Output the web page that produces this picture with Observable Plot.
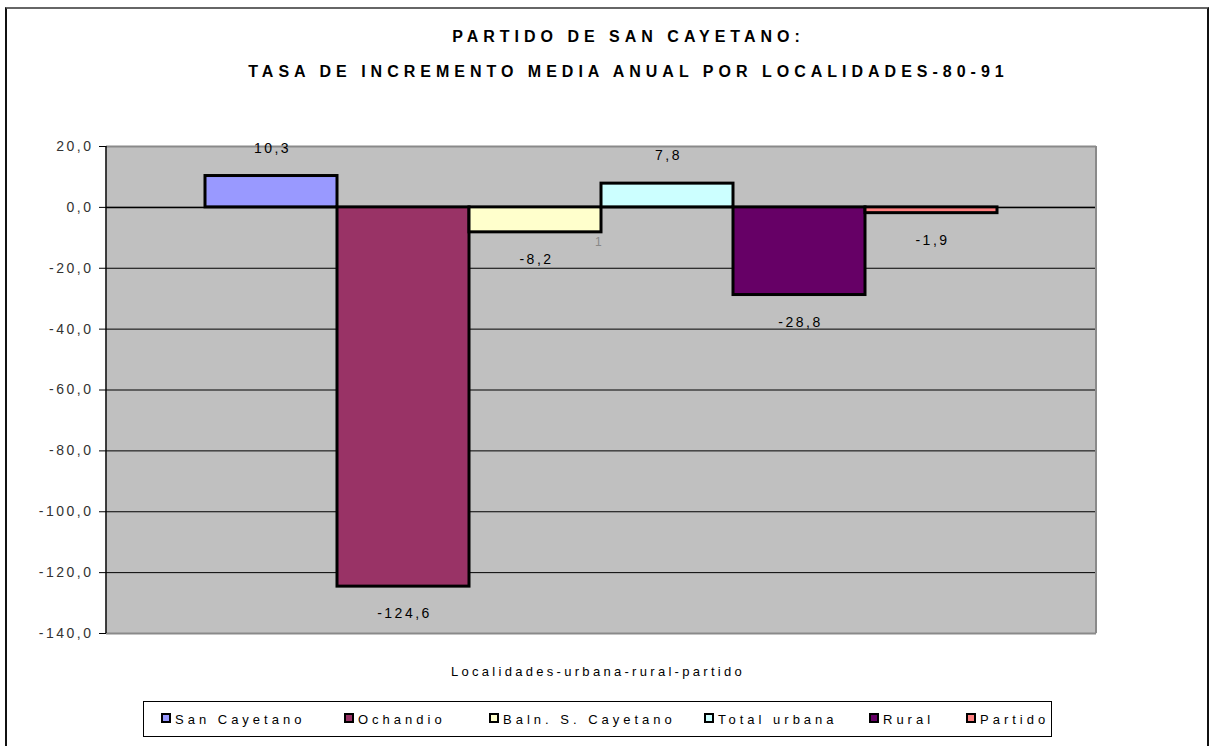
<!DOCTYPE html>
<html>
<head>
<meta charset="utf-8">
<script src="https://cdn.jsdelivr.net/npm/d3@7"></script>
<script src="https://cdn.jsdelivr.net/npm/@observablehq/plot@0.6"></script>
<style>
  html, body { margin: 0; padding: 0; background: #fff; }
  body { width: 1209px; height: 746px; position: relative; overflow: hidden; font-family: "Liberation Sans", Arial, sans-serif; }
  #border { position: absolute; left: 5px; top: 7px; width: 1200px; height: 760px; border-left: 2px solid #111; border-top: 2px solid #666; border-right: 2px solid #111; }
  .title { position: absolute; left: 48px; width: 1161px; text-align: center; font-weight: bold; font-size: 16px; letter-spacing: 5px; color: #000; white-space: nowrap; }
  #chart { position: absolute; left: 0; top: 120px; }
  #chart svg text { letter-spacing: 2.5px; }
  #xlabel { position: absolute; left: 0; width: 1196px; text-align: center; top: 664px; font-size: 13px; letter-spacing: 3.3px; color: #000; white-space: nowrap; }
  #legend { position: absolute; left: 143px; top: 701px; width: 909px; height: 36px; border: 1px solid #000; box-sizing: border-box; }
  .li { position: absolute; top: 0; height: 35px; }
  .sw { position: absolute; top: 11px; width: 6px; height: 6px; border: 2px solid #000; }
  .lt { position: absolute; top: 10px; font-size: 13px; letter-spacing: 4px; white-space: nowrap; line-height: 15px; color: #000; }
</style>
</head>
<body>
<div id="border"></div>
<div class="title" id="t1" style="top:28px"></div>
<div class="title" id="t2" style="top:63px"></div>
<div id="chart"></div>
<div id="xlabel"></div>
<div id="legend"></div>
<script>
// ---- data ----
const titleLines = ["PARTIDO DE SAN CAYETANO:", "TASA DE INCREMENTO MEDIA ANUAL POR LOCALIDADES-80-91"];
const xAxisLabel = "Localidades-urbana-rural-partido";
const series = ["San Cayetano", "Ochandio", "Baln. S. Cayetano", "Total urbana", "Rural", "Partido"];
const values = [10.3, -124.6, -8.2, 7.8, -28.8, -1.9];
const valueLabels = ["10,3", "-124,6", "-8,2", "7,8", "-28,8", "-1,9"];
const colors = ["#9999FF", "#993366", "#FFFFCC", "#CCFFFF", "#660066", "#FF8080"];
const yTicks = [20, 0, -20, -40, -60, -80, -100, -120, -140];
const strayLabel = [{series: "Total urbana", value: -11.5, text: "1"}];

// ---- build ----
document.getElementById("t1").textContent = titleLines[0];
document.getElementById("t2").textContent = titleLines[1];
document.getElementById("xlabel").textContent = xAxisLabel;

const data = series.map((s, i) => ({series: s, value: values[i], label: valueLabels[i]}));
const fmt = d => d.toFixed(1).replace(".", ",");

// vertical edges of the plot area (left: black axis line, right: gray border)
function plotEdges(index, scales, channels, dims) {
  const g = document.createElementNS("http://www.w3.org/2000/svg", "g");
  const x0 = dims.marginLeft, x1 = dims.width - dims.marginRight;
  const y0 = dims.marginTop, y1 = dims.height - dims.marginBottom;
  const mk = (x, stroke, w) => {
    const l = document.createElementNS("http://www.w3.org/2000/svg", "line");
    l.setAttribute("x1", x); l.setAttribute("x2", x);
    l.setAttribute("y1", y0); l.setAttribute("y2", y1);
    l.setAttribute("stroke", stroke); l.setAttribute("stroke-width", w);
    g.appendChild(l);
  };
  mk(x1, "#8a8a8a", 2);
  mk(x0, "#000", 1.5);
  return g;
}

const chart = Plot.plot({
  width: 1209,
  height: 530,
  marginTop: 26,
  marginBottom: 17,
  marginLeft: 106,
  marginRight: 113,
  style: {fontFamily: "Liberation Sans, Arial, sans-serif", fontSize: "14px", background: "transparent"},
  x: {domain: series, padding: 0, insetLeft: 98, insetRight: 99, axis: null},
  y: {domain: [-140, 20], ticks: yTicks, tickFormat: fmt, label: null},
  color: {domain: series, range: colors},
  marks: [
    Plot.frame({fill: "#C0C0C0", stroke: null}),
    Plot.gridY(yTicks, {stroke: "#000", strokeOpacity: 1, strokeWidth: 1}),
    Plot.ruleY([0], {stroke: "#000", strokeWidth: 1.5}),
    Plot.ruleY([20, -140], {stroke: "#8a8a8a", strokeWidth: 2}),
    Plot.axisY({ticks: yTicks, tickFormat: fmt, tickSize: 7, tickPadding: 6, fill: "#333", stroke: "#000", fontSize: 14, label: null}),
    plotEdges,
    Plot.barY(data, {x: "series", y: "value", fill: "series", stroke: "#000", strokeWidth: 3, strokeLinejoin: "miter"}),
    Plot.text(data.filter(d => d.value > 0), {x: "series", y: "value", text: "label", dy: -28, dx: 1, fill: "#000", fontSize: 14}),
    Plot.text(data.filter(d => d.value <= 0), {x: "series", y: "value", text: "label", dy: 27, dx: 1, fill: "#000", fontSize: 14}),
    Plot.text(strayLabel, {x: "series", y: "value", text: "text", dx: -68, fill: "#888", fontSize: 12})
  ]
});
document.getElementById("chart").appendChild(chart);

// legend
const legendX = [17, 200, 345, 560, 725, 822];
const legend = document.getElementById("legend");
series.forEach((s, i) => {
  const item = document.createElement("div");
  item.className = "li";
  item.style.left = legendX[i] + "px";
  const sw = document.createElement("div");
  sw.className = "sw";
  sw.style.left = "0px";
  sw.style.background = colors[i];
  const t = document.createElement("div");
  t.className = "lt";
  t.style.left = "14px";
  t.textContent = s;
  item.appendChild(sw);
  item.appendChild(t);
  legend.appendChild(item);
});
</script>
</body>
</html>
